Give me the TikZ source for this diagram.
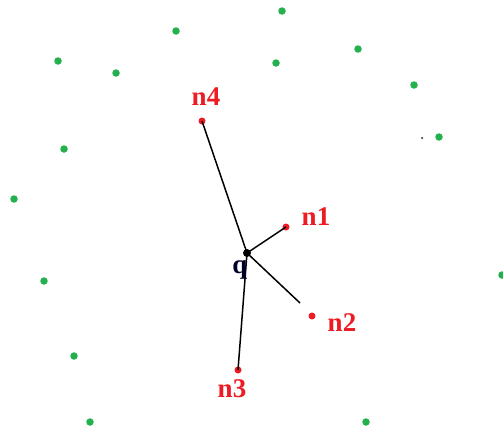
\documentclass[tikz,border=0pt]{standalone}
\usepackage{fontspec}
\setmainfont{Liberation Serif}
\begin{document}
\begin{tikzpicture}[x=1pt,y=-1pt]
\definecolor{ptgreen}{RGB}{34,177,76}
\definecolor{ptred}{RGB}{237,28,36}
\tikzset{
  gdot/.style={circle,fill=ptgreen,inner sep=0pt,minimum size=7.5pt},
  rdot/.style={circle,fill=ptred,inner sep=0pt,minimum size=7pt},
  qdot/.style={circle,fill=black,inner sep=0pt,minimum size=8pt},
  tinydot/.style={circle,fill=black!70,inner sep=0pt,minimum size=2.5pt},
  lbl/.style={text=ptred,font=\fontsize{27}{30}\selectfont\bfseries,inner sep=0pt},
  edge/.style={draw=black,line width=1.5pt}}
\useasboundingbox (0,0) rectangle (503,431);
% green points
\node[gdot] (g1) at (282,11) {};
\node[gdot] (g2) at (176,31) {};
\node[gdot] (g3) at (358,49) {};
\node[gdot] (g4) at (58,61) {};
\node[gdot] (g5) at (116,73) {};
\node[gdot] (g6) at (276,63) {};
\node[gdot] (g7) at (414,85) {};
\node[gdot] (g8) at (439,137) {};
\node[gdot] (g9) at (64,149) {};
\node[gdot] (g10) at (14,199) {};
\node[gdot] (g11) at (502,275) {};
\node[gdot] (g12) at (44,281) {};
\node[gdot] (g13) at (74,356) {};
\node[gdot] (g14) at (90,422) {};
\node[gdot] (g15) at (366,422) {};
\node[tinydot] (t1) at (422,138) {};
% query and neighbours
\node[qdot] (q) at (247,253) {};
\node[rdot] (n1) at (286,227) {};
\node[rdot] (n2) at (312,316) {};
\node[rdot] (n3) at (238,370) {};
\node[rdot] (n4) at (202,121) {};
\coordinate (e2) at (300,303);
\draw[edge] (q.center) -- (n1.center);
\draw[edge] (q.center) -- (e2);
\draw[edge] (q.center) -- (n3.center);
\draw[edge] (q.center) -- (n4.center);
% labels
\node[lbl] (ln1) at (316,217) {n1};
\node[lbl] (ln2) at (342,323) {n2};
\node[lbl] (ln3) at (232,389) {n3};
\node[lbl] (ln4) at (206,97) {n4};
\node[lbl,text=black!85!blue] (lq) at (240,270) {q};
\end{tikzpicture}
\end{document}
